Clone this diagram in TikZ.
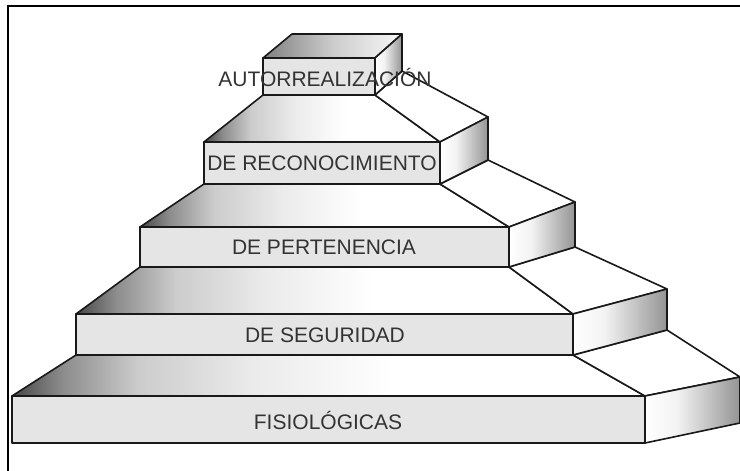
\documentclass[tikz,border=0pt]{standalone}
\usepackage{fontspec}
\setmainfont{Liberation Sans}
\pgfdeclarehorizontalshading{treadshade}{100bp}{color(0bp)=(black!72); color(25bp)=(black!72); color(29bp)=(black!45); color(35bp)=(black!20); color(44bp)=(black!8); color(55bp)=(white); color(100bp)=(white)}
\pgfdeclarehorizontalshading{sideshade}{100bp}{color(0bp)=(white); color(25bp)=(white); color(42bp)=(black!5); color(75bp)=(black!42); color(100bp)=(black!42)}
\pgfdeclarehorizontalshading{boxtopshade}{100bp}{color(0bp)=(black!50); color(25bp)=(black!50); color(50bp)=(black!20); color(75bp)=(black!3); color(100bp)=(black!3)}
\tikzset{
  edge/.style={draw=black!90, line width=1.6pt, line join=round},
  tread/.style={edge, shading=treadshade},
  frontface/.style={edge, fill=black!10},
  sideface/.style={edge, shading=sideshade},
  rightstep/.style={edge, fill=white},
  boxtop/.style={edge, shading=boxtopshade},
  lbl/.style={font=\fontsize{21}{24}\selectfont, text=black!80, inner sep=0pt},
  frame/.style={draw=black, line width=2.6pt}
}
\begin{document}
\begin{tikzpicture}[x=1pt,y=-1pt]
\useasboundingbox (0,0) rectangle (740,471);
\fill[white] (0,0) rectangle (740,471);
\begin{scope}
\clip (0,0) rectangle (740,471);
% level 1
\path[tread] (12,396) -- (645,396) -- (573,355) -- (76,355) -- cycle;
\path[rightstep] (573,355) -- (645,396) -- (740,377) -- (667,330) -- cycle;
\path[frontface] (12,396) rectangle (645,443);
\path[sideface] (645,396) -- (740,377) -- (740,423) -- (645,443) -- cycle;
% level 2
\path[tread] (76,314) -- (573,314) -- (509,267) -- (140,267) -- cycle;
\path[rightstep] (509,267) -- (573,314) -- (667,289) -- (575,247) -- cycle;
\path[frontface] (76,314) rectangle (573,355);
\path[sideface] (573,314) -- (667,289) -- (667,330) -- (573,355) -- cycle;
% level 3
\path[tread] (140,227) -- (509,227) -- (440,184) -- (204,184) -- cycle;
\path[rightstep] (440,184) -- (509,227) -- (575,202) -- (488,160) -- cycle;
\path[frontface] (140,227) rectangle (509,267);
\path[sideface] (509,227) -- (575,202) -- (575,247) -- (509,267) -- cycle;
% level 4
\path[tread] (204,142) -- (440,142) -- (375,95) -- (263,95) -- cycle;
\path[rightstep] (375,95) -- (440,142) -- (488,117) -- (402,71) -- cycle;
\path[frontface] (204,142) rectangle (440,184);
\path[sideface] (440,142) -- (488,117) -- (488,160) -- (440,184) -- cycle;
% top box
\path[boxtop] (263,58) -- (292,34) -- (402,34) -- (375,58) -- cycle;
\path[frontface] (263,58) rectangle (375,95);
\path[sideface] (375,58) -- (402,34) -- (402,71) -- (375,95) -- cycle;
\end{scope}
% frame
\draw[frame] (742,6) -- (8,6) -- (8,473);
% labels
\node[lbl] (fis) at (328,420) {FISIOLÓGICAS};
\node[lbl] (seg) at (325,335) {DE SEGURIDAD};
\node[lbl] (per) at (324,247) {DE PERTENENCIA};
\node[lbl] (rec) at (322,163) {DE RECONOCIMIENTO};
\node[lbl] (aut) at (325,77) {AUTORREALIZACIÓN};
\end{tikzpicture}
\end{document}
